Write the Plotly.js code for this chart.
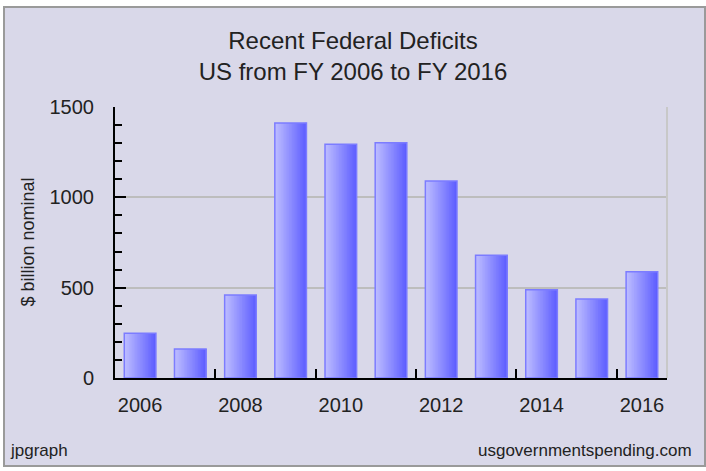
<!DOCTYPE html>
<html>
<head>
<meta charset="utf-8">
<script src="https://cdn.plot.ly/plotly-3.0.1.min.js"></script>
<style>
  html, body { margin: 0; padding: 0; background: #ffffff; }
  #chart { width: 706px; height: 471px; }
</style>
</head>
<body>
<div id="chart"></div>
<script>
// Federal deficits, $ billion nominal
var years = [2006, 2007, 2008, 2009, 2010, 2011, 2012, 2013, 2014, 2015, 2016];
var deficits = [248, 160, 459, 1412, 1294, 1302, 1090, 680, 488, 437, 588];

var xTickVals = [2006, 2008, 2010, 2012, 2014, 2016];
var xTickText = ['2006', '2008', '2010', '2012', '2014', '2016'];
var xBoundaryTicks = [2007.5, 2009.5, 2011.5, 2013.5, 2015.5];
var yTickVals = [0, 500, 1000, 1500];

var barWidth = 0.63;
var steps = 20;

// gradient fill: each slice runs from its left edge to the right end of the bar,
// so later (darker) slices cover earlier ones and no seams show
var data = [];
for (var k = 0; k < steps; k++) {
    var t = k / (steps - 1);
    var c = Math.round(188 + (94 - 188) * t);
    data.push({
        type: 'bar',
        x: years,
        y: deficits,
        width: barWidth - k * barWidth / steps,
        offset: -barWidth / 2 + k * barWidth / steps,
        marker: { color: 'rgb(' + c + ',' + c + ',255)', line: { width: 0 } },
        hoverinfo: 'skip',
        showlegend: false
    });
}
// outline
data.push({
    type: 'bar',
    x: years,
    y: deficits,
    width: barWidth,
    offset: -barWidth / 2,
    marker: { color: 'rgba(0,0,0,0)', line: { color: '#7c7cff', width: 1.5 } },
    showlegend: false
});

var layout = {
    width: 706,
    height: 471,
    margin: { l: 115, r: 39, t: 107, b: 93 },
    paper_bgcolor: '#ffffff',
    plot_bgcolor: '#ffffff',
    barmode: 'overlay',
    font: { family: 'Liberation Sans, Arial, sans-serif', color: '#222222' },
    title: {
        text: 'Recent Federal Deficits<br>US from FY 2006 to FY 2016',
        font: { size: 24, color: '#222222' },
        x: 0.5, xref: 'container', xanchor: 'center',
        y: 1 - 49 / 471, yref: 'container', yanchor: 'middle'
    },
    xaxis: {
        range: [2005.5, 2016.5],
        tickmode: 'array',
        tickvals: xTickVals,
        ticktext: xTickText,
        ticks: 'inside',
        ticklen: 0,
        ticklabelstandoff: 8,
        tickfont: { size: 20, color: '#222222' },
        showline: true,
        linecolor: '#000000',
        linewidth: 2,
        showgrid: false,
        zeroline: false,
        minor: {
            tickmode: 'array',
            tickvals: xBoundaryTicks,
            ticks: 'inside',
            ticklen: 9,
            tickwidth: 2,
            tickcolor: '#000000',
            showgrid: false
        }
    },
    yaxis: {
        range: [0, 1500],
        tickmode: 'array',
        tickvals: yTickVals,
        ticks: 'inside',
        ticklen: 11,
        tickwidth: 2,
        tickcolor: '#000000',
        ticklabelstandoff: 15,
        tickfont: { size: 20, color: '#222222' },
        showline: true,
        linecolor: '#000000',
        linewidth: 2,
        showgrid: true,
        gridcolor: '#bdbdbd',
        gridwidth: 2,
        zeroline: false,
        minor: {
            dtick: 100,
            ticks: 'inside',
            ticklen: 7,
            tickwidth: 2,
            tickcolor: '#000000',
            showgrid: false
        }
    },
    shapes: [
        {
            type: 'rect', xref: 'paper', yref: 'paper', layer: 'below',
            x0: (4 - 115) / 552, x1: (705 - 115) / 552,
            y0: (378 - 466) / 271, y1: (378 - 7) / 271,
            fillcolor: '#d9d8e9',
            line: { color: '#9a9a9a', width: 2 }
        },
        {
            type: 'line', xref: 'paper', yref: 'paper', layer: 'above',
            x0: 1, x1: 1, y0: 0, y1: 1,
            line: { color: '#c8c8c8', width: 2 }
        }
    ],
    annotations: [
        {
            text: '$ billion nominal', xref: 'paper', yref: 'paper',
            x: (27 - 115) / 552, y: 0.5, xanchor: 'center', yanchor: 'middle',
            textangle: -90, showarrow: false,
            font: { size: 18, color: '#222222' }
        },
        {
            text: 'jpgraph', xref: 'paper', yref: 'paper',
            x: (8 - 115) / 552, y: (378 - 462) / 271, xanchor: 'left', yanchor: 'bottom',
            showarrow: false,
            font: { size: 17, color: '#222222' }
        },
        {
            text: 'usgovernmentspending.com', xref: 'paper', yref: 'paper',
            x: (694 - 115) / 552, y: (378 - 462) / 271, xanchor: 'right', yanchor: 'bottom',
            showarrow: false,
            font: { size: 17, color: '#222222' }
        }
    ]
};

var config = { displayModeBar: false, staticPlot: true };

Plotly.newPlot('chart', data, layout, config);
</script>
</body>
</html>
